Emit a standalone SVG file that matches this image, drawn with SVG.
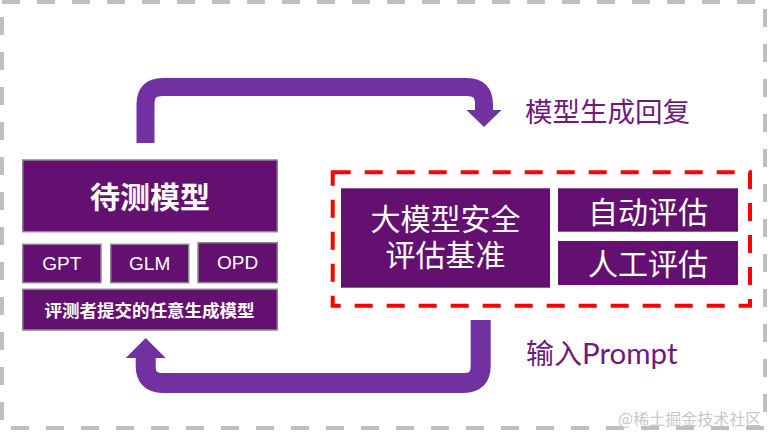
<svg xmlns="http://www.w3.org/2000/svg" width="768" height="432" viewBox="0 0 768 432">
<style>
.box{fill:#631070;stroke:#8a8a8a;stroke-width:1.5}
.box2{fill:#631070}
.w{fill:#ffffff;font-family:"Noto Sans CJK SC","Liberation Sans",sans-serif;text-anchor:middle;dominant-baseline:central}
.lat{fill:#ffffff;font-family:"Liberation Sans",Arial,sans-serif;text-anchor:middle;dominant-baseline:central;font-size:19px}
.lbl{fill:#6e1a7e;font-family:"Noto Sans CJK SC","Liberation Sans",sans-serif;dominant-baseline:central}
.band{fill:none;stroke:#7131a1}
</style>
<rect x="2" y="2" width="763" height="426" fill="none" stroke="#bfbfbf" stroke-width="4" stroke-dasharray="18 17"/>
<g id="connectors">
<path class="band" stroke-width="18" d="M145.5,143 V104 Q145.5,87 162.5,87 H467 Q484,87 484,104 V111"/>
<polygon fill="#7131a1" points="466.5,110 501.5,110 484,127"/>
<path class="band" stroke-width="20" d="M480.7,320 V366 Q480.7,383 463.7,383 H162.7 Q145.7,383 145.7,366 V357"/>
<polygon fill="#7131a1" points="125.7,358 165.7,358 145.7,338"/>
</g>
<g id="model-under-test">
<rect class="box" x="22.7" y="160" width="254.6" height="71.7"/>
<text class="w" x="150" y="195" font-size="30" font-weight="bold">待测模型</text>
</g>
<g id="gpt">
<rect class="box" x="22.7" y="244.3" width="78.3" height="38.4"/>
<text class="lat" x="61.8" y="263">GPT</text>
</g>
<g id="glm">
<rect class="box" x="110.7" y="244.3" width="78" height="38.4"/>
<text class="lat" x="149.7" y="263">GLM</text>
</g>
<g id="opd">
<rect class="box" x="198" y="242.7" width="79.3" height="40"/>
<text class="lat" x="237.6" y="262">OPD</text>
</g>
<g id="any-model">
<rect class="box" x="22.7" y="289.3" width="254.6" height="40.7"/>
<text class="w" x="149.5" y="309.5" font-size="17.5" font-weight="bold">评测者提交的任意生成模型</text>
</g>
<g id="eval-group">
<rect x="332.7" y="172.3" width="417.3" height="133.4" fill="none" stroke="#ff0000" stroke-width="4" stroke-dasharray="18 14"/>
</g>
<g id="benchmark">
<rect class="box2" x="341" y="188.3" width="209" height="99.4"/>
<text class="w" font-size="30"><tspan x="445.5" y="216.7">大模型安全</tspan><tspan x="445.5" y="253.3">评估基准</tspan></text>
</g>
<g id="auto-eval">
<rect class="box2" x="558" y="188.3" width="180" height="43.4"/>
<text class="w" x="648" y="210" font-size="30">自动评估</text>
</g>
<g id="human-eval">
<rect class="box2" x="558" y="241" width="180" height="44"/>
<text class="w" x="648" y="262" font-size="30">人工评估</text>
</g>
<g id="labels">
<text class="lbl" x="525" y="110" font-size="27.5">模型生成回复</text>
<text class="lbl" x="526" y="352" font-size="28">输入<tspan font-family="Lato,'Open Sans',sans-serif" font-size="29.5">Prompt</tspan></text>
<text x="618" y="418" font-size="16" fill="#c8c8c8" font-family="'Noto Sans CJK SC',sans-serif" dominant-baseline="central">@稀土掘金技术社区</text>
</g>
</svg>
